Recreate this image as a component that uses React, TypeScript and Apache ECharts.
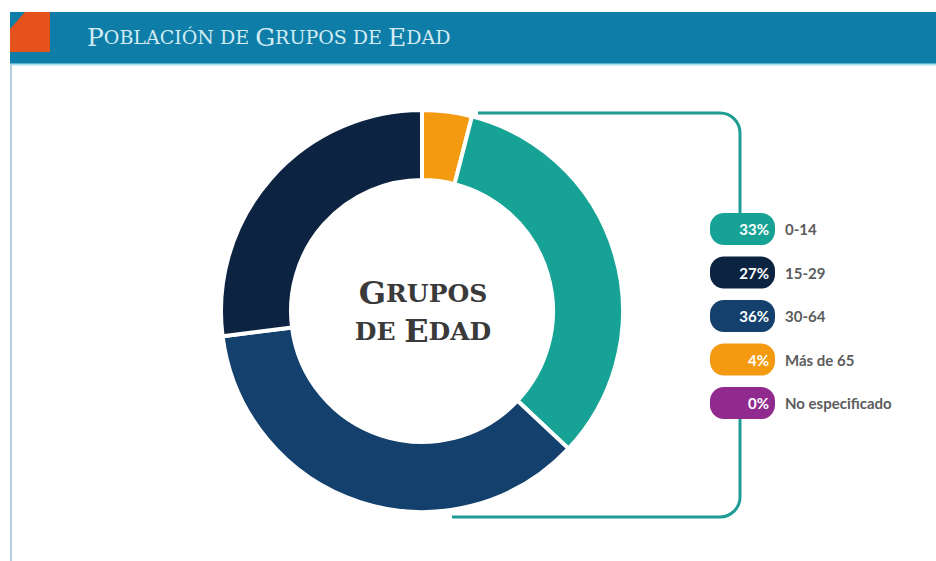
import React, { useEffect, useRef } from "react";
import * as echarts from "echarts";

const categories = ["0-14", "15-29", "30-64", "Más de 65", "No especificado"];
const percents = [33, 27, 36, 4, 0];
// drawing order of the ring, clockwise from 12 o'clock
const ringOrder = [3, 0, 2, 1, 4];
const colors = ["#16a396", "#0c2342", "#13406c", "#f39a10", "#912a8f"];

const bracketD =
  "M478 113 H720 A20 20 0 0 1 740 133 V213 M740 418 V497 A20 20 0 0 1 720 517 H452";
echarts.graphic.registerShape("bracket", echarts.graphic.extendPath(bracketD, {}) as any);

const BADGE_W = 65;
const BADGE_FONT = "bold 15px Lato";

function measure(text: string): number {
  const c = document.createElement("canvas").getContext("2d");
  if (!c) return text.length * 9;
  c.font = BADGE_FONT;
  return c.measureText(text).width;
}

export default function App() {
  const ref = useRef<HTMLDivElement>(null);
  useEffect(() => {
    if (!ref.current) return;
    const chart = echarts.init(ref.current, undefined, { renderer: "svg" });
    const rich: any = {
      l: { color: "#5c5c5c", fontSize: 15, fontFamily: "Lato", fontWeight: "bold", padding: [0, 0, 0, 10] },
    };
    categories.forEach((_, i) => {
      const t = percents[i] + "%";
      const w = measure(t);
      const right = 6;
      const left = Math.max(2, BADGE_W - right - w);
      rich["b" + i] = {
        backgroundColor: colors[i],
        borderRadius: 14,
        height: 32,
        padding: [0, right, 0, left],
        color: "#fff",
        fontSize: 15,
        fontWeight: "bold",
        fontFamily: "Lato",
      };
    });
    const serif = "DejaVu Serif";
    chart.setOption({
      animation: false,
      backgroundColor: "#fff",
      legend: {
        orient: "vertical",
        left: 705,
        top: 213,
        padding: 0,
        itemGap: 11.5,
        icon: "none",
        itemWidth: 0,
        itemHeight: 0,
        selectedMode: false,
        data: categories,
        formatter: (name: string) => {
          const i = categories.indexOf(name);
          return `{b${i}|${percents[i]}%}{l|${name}}`;
        },
        textStyle: { rich },
      },
      series: [
        {
          type: "pie",
          radius: [131, 201],
          center: [422, 311],
          startAngle: 90,
          clockwise: true,
          silent: true,
          label: { show: false },
          labelLine: { show: false },
          itemStyle: { borderColor: "#fff", borderWidth: 4 },
          data: ringOrder.map((i) => ({
            name: categories[i],
            value: percents[i],
            itemStyle: { color: colors[i] },
          })),
        },
      ],
      graphic: [
        { type: "rect", shape: { x: 10, y: 12, width: 926, height: 52 }, style: { fill: "#0e7ea8" } },
        { type: "line", shape: { x1: 10, y1: 64.5, x2: 936, y2: 64.5 }, style: { stroke: "#a8e2ef", lineWidth: 2 } },
        { type: "line", shape: { x1: 11, y1: 64, x2: 11, y2: 561 }, style: { stroke: "#b3cfdc", lineWidth: 2 } },
        {
          type: "polygon",
          shape: { points: [[25, 12], [50, 12], [50, 52], [10, 52], [10, 29]] },
          style: { fill: "#e5521c" },
        },
        {
          type: "text",
          x: 87,
          y: 37,
          style: {
            text: "{b|P}{s|OBLACIÓN DE }{b|G}{s|RUPOS DE }{b|E}{s|DAD}",
            verticalAlign: "middle",
            rich: {
              b: { fontFamily: serif, fontSize: 25, fill: "#d3ebf3" },
              s: { fontFamily: serif, fontSize: 19, fill: "#d3ebf3" },
            },
          },
        },
        {
          type: "bracket",
          x: 0,
          y: 0,
          style: { fill: null, stroke: "#1f9d95", lineWidth: 3 },
        },
        {
          type: "text",
          x: 423,
          y: 312,
          style: {
            text: "{b|G}{s|RUPOS}\n{s|DE }{b|E}{s|DAD}",
            align: "center",
            verticalAlign: "middle",
            rich: {
              b: { fontFamily: serif, fontWeight: "bold", fontSize: 32, fill: "#3a3a3a", lineHeight: 38 },
              s: { fontFamily: serif, fontWeight: "bold", fontSize: 25, fill: "#3a3a3a", lineHeight: 38 },
            },
          },
        },
      ],
    });
    return () => chart.dispose();
  }, []);
  return (
    <div
      ref={ref}
      style={{ position: "fixed", left: 0, top: 0, width: 936, height: 561, background: "#fff" }}
    />
  );
}
